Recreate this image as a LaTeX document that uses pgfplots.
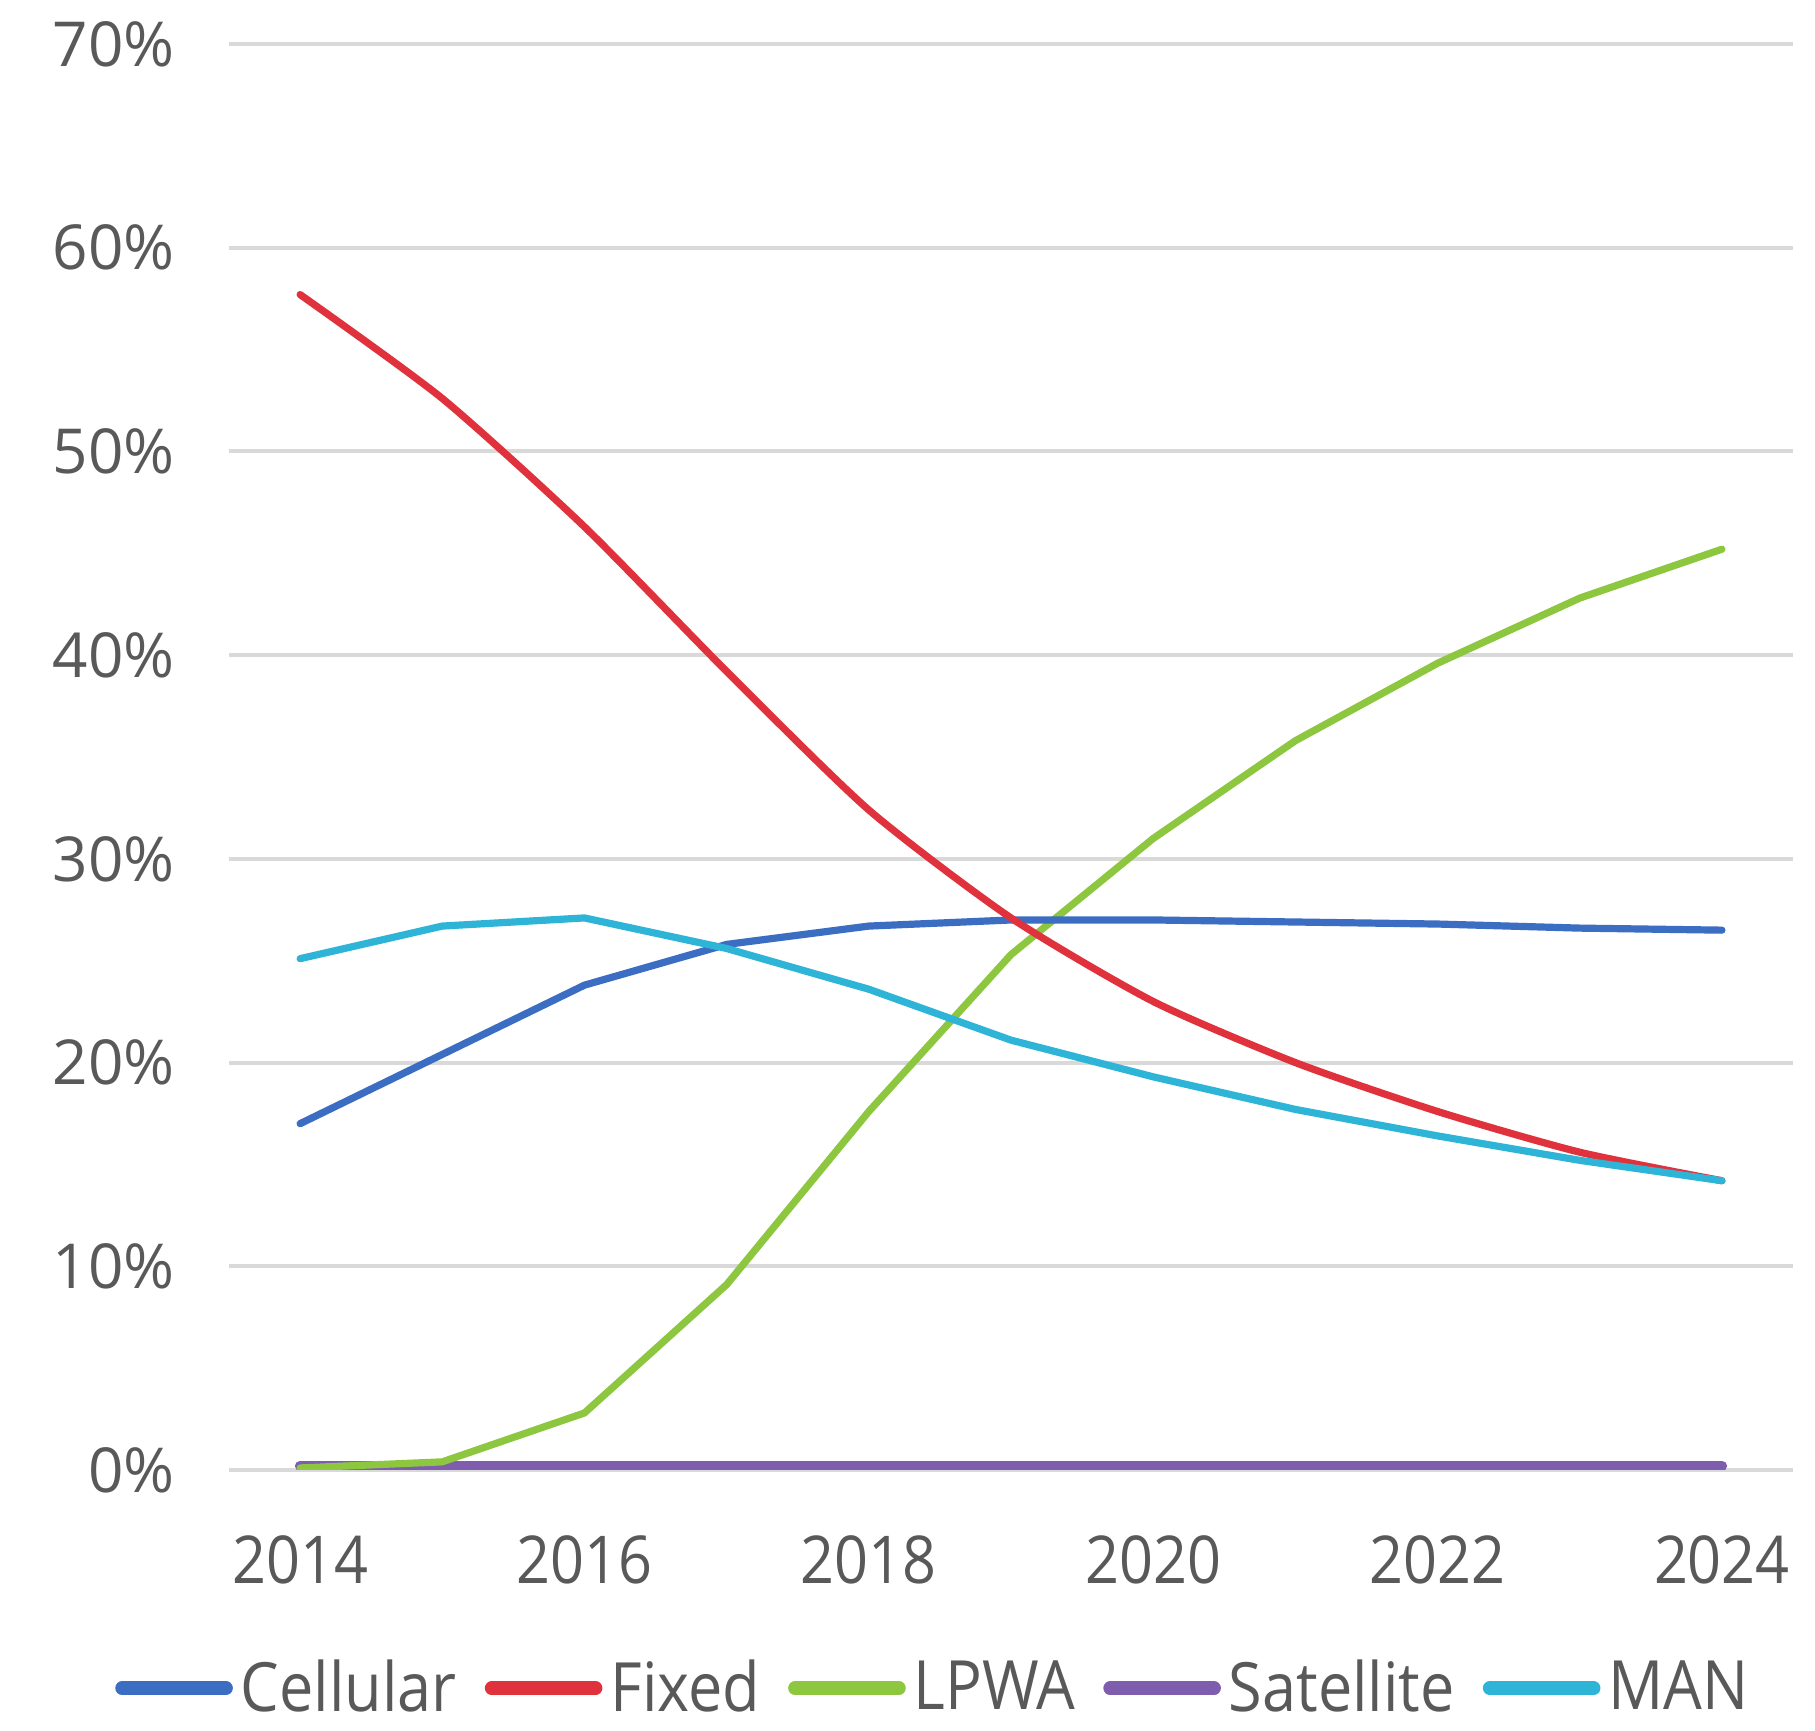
\documentclass[border=0pt]{standalone}
\usepackage{pgfplots}
\pgfplotsset{compat=1.18}
\usepackage{fontspec}
\setmainfont{Open Sans}
\newfontfamily\narrowfont{Open Sans}[FakeStretch=0.9]
\definecolor{cCell}{HTML}{3B6DC2}
\definecolor{cFix}{HTML}{E0323C}
\definecolor{cLPWA}{HTML}{8DC63F}
\definecolor{cSat}{HTML}{7E5CAE}
\definecolor{cMAN}{HTML}{2DB4D6}
\definecolor{txt}{HTML}{595959}
\definecolor{grd}{HTML}{D9D9D9}
\begin{document}
\begin{tikzpicture}
\useasboundingbox (-57.25pt,-65pt) rectangle (396.5pt,367.5pt);
\begin{axis}[
  at={(0pt,0pt)}, anchor=south west,
  scale only axis,
  width=391pt, height=356.5pt,
  xmin=2013.5, xmax=2024.5,
  ymin=0, ymax=70,
  axis line style={draw=none},
  major tick length=0pt,
  xtick={2014,2016,2018,2020,2022,2024},
  xticklabels={2014,2016,2018,2020,2022,2024},
  ytick={0,10,20,30,40,50,60,70},
  yticklabels={0\%,10\%,20\%,30\%,40\%,50\%,60\%,70\%},
  ymajorgrids,
  grid style={grd, line width=1pt},
  xticklabel style={font=\narrowfont\fontsize{16.5}{19}\selectfont, text=txt, yshift=-13pt},
  yticklabel style={font=\fontsize{15.5}{18}\selectfont, text=txt, xshift=-10pt},
]
\addplot[cSat, line width=2.6pt, line cap=round] coordinates {
(2014,0.2) (2015,0.2) (2016,0.2) (2017,0.2) (2018,0.2) (2019,0.2) (2020,0.2) (2021,0.2) (2022,0.2) (2023,0.2) (2024,0.2)};
\addplot[cLPWA, line width=1.8pt, line cap=round] coordinates {
(2014,0.1) (2015,0.4) (2016,2.8) (2017,9.1) (2018,17.6) (2019,25.3) (2020,31.0) (2021,35.8) (2022,39.6) (2023,42.8) (2024,45.2)};
\addplot[cCell, line width=1.8pt, line cap=round] coordinates {
(2014,17.0) (2015,20.4) (2016,23.8) (2017,25.8) (2018,26.7) (2019,27.0) (2020,27.0) (2021,26.9) (2022,26.8) (2023,26.6) (2024,26.5)};
\addplot[cFix, line width=1.8pt, line cap=round, smooth, tension=0.4] coordinates {
(2014,57.7) (2015,52.6) (2016,46.3) (2017,39.2) (2018,32.4) (2019,27.1) (2020,23.0) (2021,20.0) (2022,17.6) (2023,15.6) (2024,14.2)};
\addplot[cMAN, line width=1.8pt, line cap=round] coordinates {
(2014,25.1) (2015,26.7) (2016,27.1) (2017,25.6) (2018,23.6) (2019,21.1) (2020,19.3) (2021,17.7) (2022,16.4) (2023,15.2) (2024,14.2)};
\end{axis}
\begin{axis}[
  at={(0pt,0pt)}, anchor=south west,
  scale only axis, hide axis,
  width=391pt, height=356.5pt,
  xmin=2013.5, xmax=2024.5, ymin=0, ymax=70,
  legend style={at={(0.452,-0.153)}, anchor=center, draw=none, fill=none,
    legend columns=-1, font=\narrowfont\fontsize{17}{20}\selectfont, text=txt,
    /tikz/every even column/.append style={column sep=5pt},
    /tikz/every odd column/.append style={column sep=0pt},
    inner sep=0pt, cells={anchor=west}},
  legend image code/.code={\draw[#1, line width=3.4pt, line cap=round] (0pt,0pt) -- (26pt,0pt);},
]
\addlegendimage{cCell}\addlegendentry{Cellular}
\addlegendimage{cFix}\addlegendentry{Fixed}
\addlegendimage{cLPWA}\addlegendentry{LPWA}
\addlegendimage{cSat}\addlegendentry{Satellite}
\addlegendimage{cMAN}\addlegendentry{MAN}
\end{axis}
\end{tikzpicture}
\end{document}
